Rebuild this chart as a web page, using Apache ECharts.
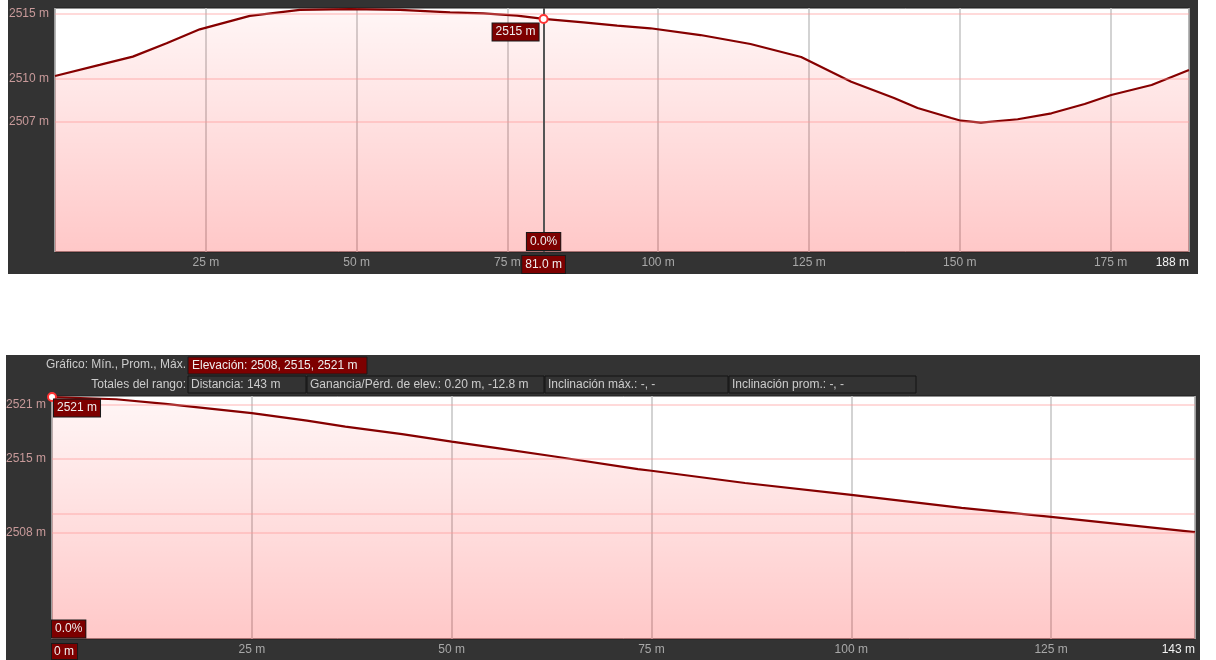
<!DOCTYPE html>
<html><head><meta charset="utf-8">
<script src="https://cdn.jsdelivr.net/npm/echarts@6/dist/echarts.min.js"></script>
<style>html,body{margin:0;padding:0;background:#fff}#c{width:1216px;height:660px}</style>
</head><body><div id="c"></div>
<script>
// ---- data: upper profile ----
const topDist = [0, 7.4, 12.9, 18.5, 24.0, 32.3, 40.6, 48.9, 57.2, 65.5, 71.0, 76.6, 81.0, 87.6, 93.2, 98.7, 107.0, 115.3, 123.7, 132.0, 139.1, 143.0, 148.6, 150.2, 153.5, 159.6, 165.2, 170.7, 175.1, 181.8, 188.0];
const topElev = [2510.23, 2511.08, 2511.72, 2512.75, 2513.82, 2514.85, 2515.31, 2515.38, 2515.31, 2515.13, 2515.05, 2514.87, 2514.62, 2514.36, 2514.10, 2513.90, 2513.38, 2512.69, 2511.69, 2509.79, 2508.54, 2507.77, 2507.00, 2506.79, 2506.64, 2506.90, 2507.36, 2508.08, 2508.77, 2509.54, 2510.69];
const topXMax = 188;
const topYRange = [2496.69, 2515.46];
const topYLines = [2515.0, 2510.0, 2506.69];
const topYLabels = ['2515 m', '2510 m', '2507 m'];
const topCursor = [81, 2514.62];
const topCursorTexts = ['2515 m', '0.0%', '81.0 m'];

// ---- data: lower profile ----
const botDist = [0, 8.0, 14.2, 25.0, 31.9, 36.7, 43.8, 50.0, 55.7, 62.9, 73.3, 75.0, 86.7, 100.0, 113.8, 125.0, 143.0];
const botElev = [2521.0, 2520.79, 2520.35, 2519.47, 2518.77, 2518.20, 2517.49, 2516.78, 2516.17, 2515.37, 2514.18, 2514.02, 2512.86, 2511.73, 2510.50, 2509.65, 2508.20];
const botXMax = 143;
const botYRange = [2498.08, 2521.1];
const botYLines = [2520.25, 2515.15, 2509.96, 2508.17];
const botYLabels = ['2521 m', '2515 m', '', '2508 m'];
const botCursor = [0, 2521.0];
const botCursorTexts = ['2521 m', '0.0%', '0 m'];

// ---- header texts ----
const headerRow1 = ['Gráfico: Mín., Prom., Máx.', 'Elevación: 2508, 2515, 2521 m'];
const headerRow2Title = 'Totales del rango:';
const headerRow2Boxes = ['Distancia: 143 m', 'Ganancia/Pérd. de elev.: 0.20 m, -12.8 m', 'Inclinación máx.: -, -', 'Inclinación prom.: -, -'];

const FONT = 'Liberation Sans';
const RED_BOX = '#7d0000';

function pairs(xs, ys) { return xs.map((x, i) => [x, ys[i]]); }

function hLines(vals, labels) {
  return vals.map((v, i) => ({
    yAxis: v,
    lineStyle: { color: 'rgba(255,150,150,0.35)', width: 2, type: 'solid' },
    label: { show: !!labels[i], position: 'start', distance: 6, formatter: labels[i], color: '#c89a9a', fontSize: 12, fontFamily: FONT }
  }));
}

const areaGrad = new echarts.graphic.LinearGradient(0, 0, 0, 1, [
  { offset: 0, color: 'rgba(255,0,0,0.05)' },
  { offset: 1, color: 'rgba(255,0,0,0.31)' }
]);

function xAxisCfg(gi, max, showMin, minRich) {
  return {
    type: 'value', gridIndex: gi, min: 0, max: max, interval: 25,
    axisLine: { show: false }, axisTick: { show: false },
    splitLine: { show: true, lineStyle: { color: '#c4c4c4', width: 1.5 } },
    axisLabel: {
      showMinLabel: showMin, alignMinLabel: 'left', alignMaxLabel: 'right',
      margin: 5, color: '#a8a8a8', fontSize: 12, fontFamily: FONT,
      formatter: function (v) {
        if (v === max) return '{e|' + v + ' m}';
        if (v === 0 && minRich) return '{r|' + minRich + '}';
        return v + ' m';
      },
      rich: {
        e: { color: '#f2f2f2', fontSize: 12, fontFamily: FONT },
        r: { color: '#eeeeee', fontSize: 12, fontFamily: FONT, backgroundColor: RED_BOX, padding: [2, 3, 1, 2], borderColor: '#1a1a1a', borderWidth: 1 }
      }
    }
  };
}

function yAxisCfg(gi, rng) {
  return {
    type: 'value', gridIndex: gi, min: rng[0], max: rng[1],
    axisLine: { show: false }, axisTick: { show: false },
    splitLine: { show: false }, axisLabel: { show: false }
  };
}

const boxLabel = {
  show: true, color: '#eeeeee', fontSize: 12, fontFamily: FONT, opacity: 1,
  backgroundColor: RED_BOX, padding: [3, 3, 2, 3], borderColor: '#1a1a1a', borderWidth: 1
};

const graphics = [
  { type: 'rect', z: -100, shape: { x: 8, y: 0, width: 1190, height: 274 }, style: { fill: '#333333' } },
  { type: 'rect', z: -100, shape: { x: 6, y: 355, width: 1194, height: 305 }, style: { fill: '#333333' } },
  { type: 'text', z: 100, style: { x: 186, y: 365, text: headerRow1[0], align: 'right', verticalAlign: 'middle', fill: '#cccccc', font: '12px ' + FONT } },
  { type: 'rect', z: 100, shape: { x: 188, y: 357, width: 179, height: 17 }, style: { fill: RED_BOX, stroke: '#1a1a1a', lineWidth: 1 } },
  { type: 'text', z: 101, style: { x: 192, y: 365.5, text: headerRow1[1], verticalAlign: 'middle', fill: '#eeeeee', font: '12px ' + FONT } },
  { type: 'text', z: 100, style: { x: 186, y: 384.5, text: headerRow2Title, align: 'right', verticalAlign: 'middle', fill: '#cccccc', font: '12px ' + FONT } }
];
const boxX = [188, 307, 545, 729, 917];
headerRow2Boxes.forEach((t, i) => {
  graphics.push({ type: 'rect', z: 100, shape: { x: boxX[i], y: 376, width: boxX[i + 1] - boxX[i] - 1, height: 17 }, style: { fill: '#333333', stroke: '#151515', lineWidth: 1 } });
  graphics.push({ type: 'text', z: 101, style: { x: boxX[i] + 3, y: 384.5, text: t, verticalAlign: 'middle', fill: '#cccccc', font: '12px ' + FONT } });
});

const option = {
  animation: false,
  backgroundColor: 'transparent',
  graphic: graphics,
  grid: [
    { left: 55, top: 8, width: 1134, height: 244, show: true, backgroundColor: '#ffffff', borderColor: '#1e1e1e', borderWidth: 1 },
    { left: 52, top: 396, width: 1143, height: 244, show: true, backgroundColor: '#ffffff', borderColor: '#1e1e1e', borderWidth: 1 }
  ],
  xAxis: [xAxisCfg(0, topXMax, false, null), xAxisCfg(1, botXMax, true, botCursorTexts[2])],
  yAxis: [yAxisCfg(0, topYRange), yAxisCfg(1, botYRange)],
  series: [
    {
      type: 'line', xAxisIndex: 0, yAxisIndex: 0, data: pairs(topDist, topElev),
      symbol: 'none', lineStyle: { color: '#860000', width: 2.2 }, areaStyle: { color: areaGrad, origin: 'start' },
      markLine: {
        silent: true, symbol: ['none', 'none'],
        data: hLines(topYLines, topYLabels).concat([{
          xAxis: topCursor[0],
          lineStyle: { color: '#555555', width: 2, type: 'solid' },
          label: Object.assign({}, boxLabel, { position: 'start', distance: 4, formatter: topCursorTexts[2] })
        }])
      }
    },
    {
      type: 'scatter', xAxisIndex: 0, yAxisIndex: 0, data: [topCursor], symbol: 'emptyCircle', symbolSize: 8, z: 5,
      itemStyle: { color: '#ff3333', borderColor: '#ff3333', borderWidth: 1.5, opacity: 1 },
      label: Object.assign({}, boxLabel, { position: 'left', distance: 0, offset: [0, 13], formatter: topCursorTexts[0] })
    },
    {
      type: 'scatter', xAxisIndex: 0, yAxisIndex: 0, data: [[topCursor[0], topYRange[0]]], symbolSize: 0, z: 5,
      itemStyle: { color: RED_BOX, opacity: 1 },
      label: Object.assign({}, boxLabel, { position: 'top', distance: 2, formatter: topCursorTexts[1] })
    },
    {
      type: 'line', xAxisIndex: 1, yAxisIndex: 1, data: pairs(botDist, botElev),
      symbol: 'none', lineStyle: { color: '#860000', width: 2.2 }, areaStyle: { color: areaGrad, origin: 'start' },
      markLine: { silent: true, symbol: ['none', 'none'], data: hLines(botYLines, botYLabels) }
    },
    {
      type: 'scatter', xAxisIndex: 1, yAxisIndex: 1, data: [botCursor], symbol: 'emptyCircle', symbolSize: 8, z: 5, clip: false,
      itemStyle: { color: '#ff3333', borderColor: '#ff3333', borderWidth: 1.5, opacity: 1 },
      label: Object.assign({}, boxLabel, { position: 'right', distance: 0, offset: [-3, 11], formatter: botCursorTexts[0] })
    },
    {
      type: 'scatter', xAxisIndex: 1, yAxisIndex: 1, data: [[botCursor[0], botYRange[0]]], symbolSize: 0, z: 5, clip: false,
      itemStyle: { color: RED_BOX, opacity: 1 },
      label: Object.assign({}, boxLabel, { position: 'right', distance: 0, offset: [0, -10], formatter: botCursorTexts[1] })
    }
  ]
};
echarts.init(document.getElementById('c')).setOption(option);
</script></body></html>
